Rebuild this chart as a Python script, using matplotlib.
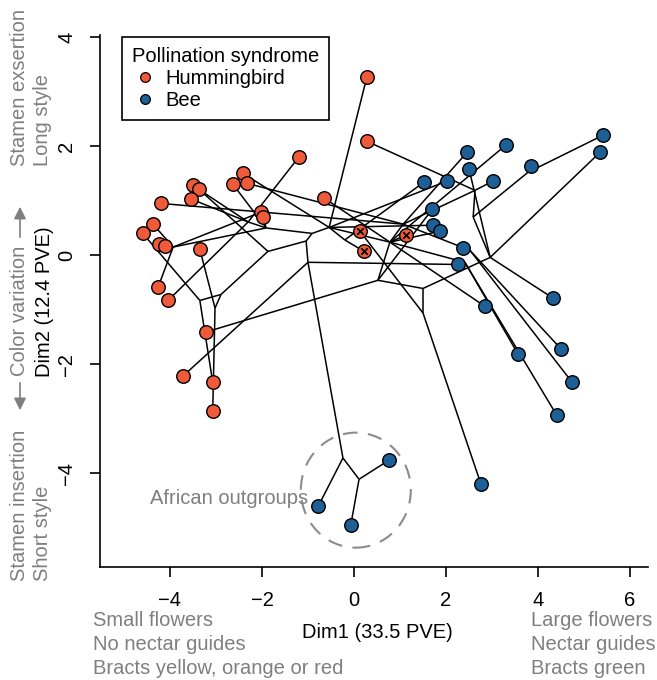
import matplotlib
matplotlib.use('Agg')
import matplotlib.pyplot as plt
from matplotlib.patches import Ellipse
from matplotlib.lines import Line2D

plt.rcParams['font.family'] = ['Liberation Sans', 'DejaVu Sans']

# Tips: hummingbird pollinated
hb_names = ['r1', 'r2', 'r3', 'r4', 'r5', 'r6', 'r7', 'r8', 'r9', 'r10', 'r11', 'r12',
            'r13', 'r14', 'r15', 'r16', 'r17', 'r18', 'r19', 'r20', 'r21', 'r22', 'r23', 'r24']
hb_x = [0.28, 0.28, -1.20, -2.41, -2.63, -2.33, -3.50, -3.37, -3.54, -4.20, -0.65, -2.02,
        -1.98, -4.37, -4.59, -4.24, -4.11, -3.35, -4.26, -4.04, -3.22, -3.72, -3.07, -3.07]
hb_y = [3.27, 2.09, 1.80, 1.50, 1.30, 1.32, 1.28, 1.21, 1.03, 0.95, 1.05, 0.79,
        0.70, 0.57, 0.40, 0.20, 0.17, 0.11, -0.59, -0.83, -1.41, -2.22, -2.33, -2.86]

# hummingbird tips marked with a cross
cr_names = ['c1', 'c2', 'c3']
cr_x = [0.13, 0.22, 1.13]
cr_y = [0.44, 0.07, 0.37]

# Tips: bee pollinated (incl. African outgroups a1-a3)
bee_names = ['b1', 'b2', 'b3', 'b4', 'b5', 'b6', 'b7', 'b8', 'b9', 'b10', 'b11', 'b12',
             'b13', 'b14', 'b15', 'b16', 'b17', 'b18', 'b19', 'b20', 'b21', 'a1', 'a2', 'a3']
bee_x = [2.46, 3.30, 5.41, 5.35, 3.85, 2.50, 1.52, 2.02, 3.02, 1.70, 1.72, 1.87,
         2.37, 2.26, 2.85, 4.33, 3.57, 4.50, 4.74, 4.41, 2.76, 0.76, -0.78, -0.07]
bee_y = [1.89, 2.02, 2.20, 1.89, 1.63, 1.58, 1.34, 1.36, 1.36, 0.84, 0.55, 0.44,
         0.13, -0.17, -0.94, -0.79, -1.82, -1.72, -2.33, -2.94, -4.20, -3.76, -4.61, -4.95]

# Internal (ancestral) nodes
node_names = ['C', 'A1', 'A2', 'B', 'D', 'I', 'G', 'H', 'V', 'F', 'E', 'J', 'K', 'L',
              'M', 'N', 'O', 'P', 'Q', 'T', 'W', 'Z1', 'Z2', 'R', 'S']
node_x = [-0.54, -0.91, -1.04, -1.00, -1.87, -2.89, -3.35, -3.02, -1.91, -3.93, -2.30, 0.52,
          1.50, 1.50, 2.96, 2.63, 2.59, 3.78, 1.07, 0.78, -0.20, 2.41, 2.52, -0.24, 0.11]
node_y = [0.51, 0.40, 0.26, -0.13, 0.07, -0.72, -0.83, -0.97, 0.50, 0.15, 0.61, -0.46,
          -0.61, -1.06, -0.04, 1.19, 0.70, 1.52, 0.57, 0.24, 0.28, -0.13, 0.09, -3.72, -4.11]

# Branches
edges = [
    ('C', 'A1'), ('A1', 'A2'), ('A2', 'B'), ('A2', 'D'), ('D', 'I'), ('I', 'G'), ('I', 'H'),
    ('A1', 'V'), ('V', 'F'), ('V', 'E'), ('B', 'R'), ('R', 'S'), ('C', 'T'), ('T', 'Q'),
    ('T', 'J'), ('Q', 'N'), ('J', 'K'), ('K', 'L'), ('K', 'M'), ('M', 'O'), ('O', 'N'),
    ('O', 'P'), ('W', 'C'), ('Z1', 'T'), ('Z2', 'Q'),
    ('r1', 'C'), ('r2', 'N'), ('r3', 'E'), ('r4', 'C'), ('r5', 'V'), ('r6', 'Q'), ('r7', 'E'),
    ('r8', 'D'), ('r9', 'E'), ('r10', 'Q'), ('r11', 'T'), ('r12', 'F'), ('r13', 'V'),
    ('r14', 'F'), ('r15', 'G'), ('r16', 'F'), ('r17', 'F'), ('r18', 'H'), ('r19', 'F'),
    ('r20', 'E'), ('r21', 'J'), ('r22', 'B'), ('r23', 'G'), ('r24', 'H'),
    ('c1', 'L'), ('c2', 'W'), ('c3', 'T'),
    ('b1', 'Q'), ('b2', 'T'), ('b3', 'P'), ('b4', 'M'), ('b5', 'P'), ('b6', 'M'), ('b7', 'W'),
    ('b8', 'C'), ('b9', 'N'), ('b10', 'J'), ('b11', 'C'), ('b12', 'T'), ('b13', 'Z2'),
    ('b14', 'B'), ('b15', 'T'), ('b16', 'M'), ('b17', 'Z1'), ('b18', 'Z2'), ('b19', 'Z2'),
    ('b20', 'Z1'), ('b21', 'L'), ('a1', 'S'), ('a2', 'R'), ('a3', 'S'),
]

RED = '#EE5A3A'
BLUE = '#1E5F95'
GREY = '#7F7F7F'
FS = 14.5


def createPlot():
    pos = {}
    for names, xs, ys in [(hb_names, hb_x, hb_y), (cr_names, cr_x, cr_y),
                          (bee_names, bee_x, bee_y), (node_names, node_x, node_y)]:
        for n, x, y in zip(names, xs, ys):
            pos[n] = (x, y)

    fig = plt.figure(figsize=(6.57, 6.80), dpi=100)
    ax = fig.add_axes([100/657, 1 - 567/680, 548/657, 532/680])

    # tree branches
    for a, b in edges:
        ax.plot([pos[a][0], pos[b][0]], [pos[a][1], pos[b][1]],
                color='black', lw=1.1, zorder=1, solid_capstyle='butt')

    # tips
    ax.scatter(hb_x, hb_y, s=95, c=RED, edgecolors='black', linewidths=1.0, zorder=3)
    ax.scatter(cr_x, cr_y, s=95, c=RED, edgecolors='black', linewidths=1.0, zorder=3)
    ax.scatter(cr_x, cr_y, s=22, marker='x', c='black', linewidths=1.2, zorder=4)
    ax.scatter(bee_x, bee_y, s=95, c=BLUE, edgecolors='black', linewidths=1.0, zorder=3)

    # African outgroups
    ax.add_patch(Ellipse((0.04, -4.31), 2.39, 2.11, fill=False, ec='#8C8C8C',
                         lw=1.5, ls=(0, (7, 5)), zorder=2))
    ax.text(-1.0, -4.47, 'African outgroups', color=GREY, fontsize=FS,
            ha='right', va='center')

    ax.set_xlim(-5.52, 6.39)
    ax.set_ylim(-5.72, 4.04)
    ax.set_xticks([-4, -2, 0, 2, 4, 6])
    ax.set_yticks([-4, -2, 0, 2, 4])
    ax.set_xticklabels(['\u22124', '\u22122', '0', '2', '4', '6'])
    ax.set_yticklabels(['\u22124', '\u22122', '0', '2', '4'], rotation=90, va='center')
    ax.spines['top'].set_visible(False)
    ax.spines['right'].set_visible(False)
    for s in ['left', 'bottom']:
        ax.spines[s].set_linewidth(1.2)
    ax.tick_params(direction='out', length=7, width=1.2, labelsize=FS)
    ax.tick_params(axis='x', pad=10)
    ax.tick_params(axis='y', pad=10)

    # legend
    handles = [Line2D([], [], ls='none', marker='o', ms=7, mfc=RED, mec='black', mew=0.9),
               Line2D([], [], ls='none', marker='o', ms=7, mfc=BLUE, mec='black', mew=0.9)]
    leg = ax.legend(handles, ['Hummingbird', 'Bee'], title='Pollination syndrome',
                    loc='upper left', bbox_to_anchor=(122/657, 1 - 37/680),
                    bbox_transform=fig.transFigure, borderaxespad=0,
                    fontsize=FS, title_fontsize=FS, fancybox=False, framealpha=1,
                    edgecolor='black', handlelength=1.3, handletextpad=0.35,
                    labelspacing=0.15, borderpad=0.5, alignment='left')
    leg.get_frame().set_linewidth(1.2)

    # axis labels
    fig.text(377/657, 1 - 633/680, 'Dim1 (33.5 PVE)', fontsize=FS, ha='center', va='center')
    fig.text(45/657, 1 - 302/680, 'Dim2 (12.4 PVE)', fontsize=FS, ha='center',
             va='center', rotation=90)

    # side annotations
    fig.text(20/657, 1 - 166/680, 'Stamen exsertion', color=GREY, fontsize=FS,
             rotation=90, ha='center', va='bottom')
    fig.text(43/657, 1 - 166/680, 'Long style', color=GREY, fontsize=FS,
             rotation=90, ha='center', va='bottom')
    fig.text(20/657, 1 - 581/680, 'Stamen insertion', color=GREY, fontsize=FS,
             rotation=90, ha='center', va='bottom')
    fig.text(43/657, 1 - 581/680, 'Short style', color=GREY, fontsize=FS,
             rotation=90, ha='center', va='bottom')
    fig.text(20/657, 1 - 311/680, 'Color variation', color=GREY, fontsize=FS,
             rotation=90, ha='center', va='center')
    ax.annotate('', xy=(20/657, 1 - 204/680), xytext=(20/657, 1 - 240/680),
                xycoords='figure fraction',
                arrowprops=dict(arrowstyle='-|>', color=GREY, lw=1.2, mutation_scale=18))
    ax.annotate('', xy=(20/657, 1 - 413/680), xytext=(20/657, 1 - 380/680),
                xycoords='figure fraction',
                arrowprops=dict(arrowstyle='-|>', color=GREY, lw=1.2, mutation_scale=18))

    left_notes = ['Small flowers', 'No nectar guides', 'Bracts yellow, orange or red']
    right_notes = ['Large flowers', 'Nectar guides', 'Bracts green']
    for i, t in enumerate(left_notes):
        fig.text(93/657, 1 - (621 + 24*i)/680, t, color=GREY, fontsize=FS, va='center')
    for i, t in enumerate(right_notes):
        fig.text(531/657, 1 - (621 + 24*i)/680, t, color=GREY, fontsize=FS, va='center')

    plt.savefig('out.png', dpi=100)


if __name__ == "__main__":
    createPlot()
